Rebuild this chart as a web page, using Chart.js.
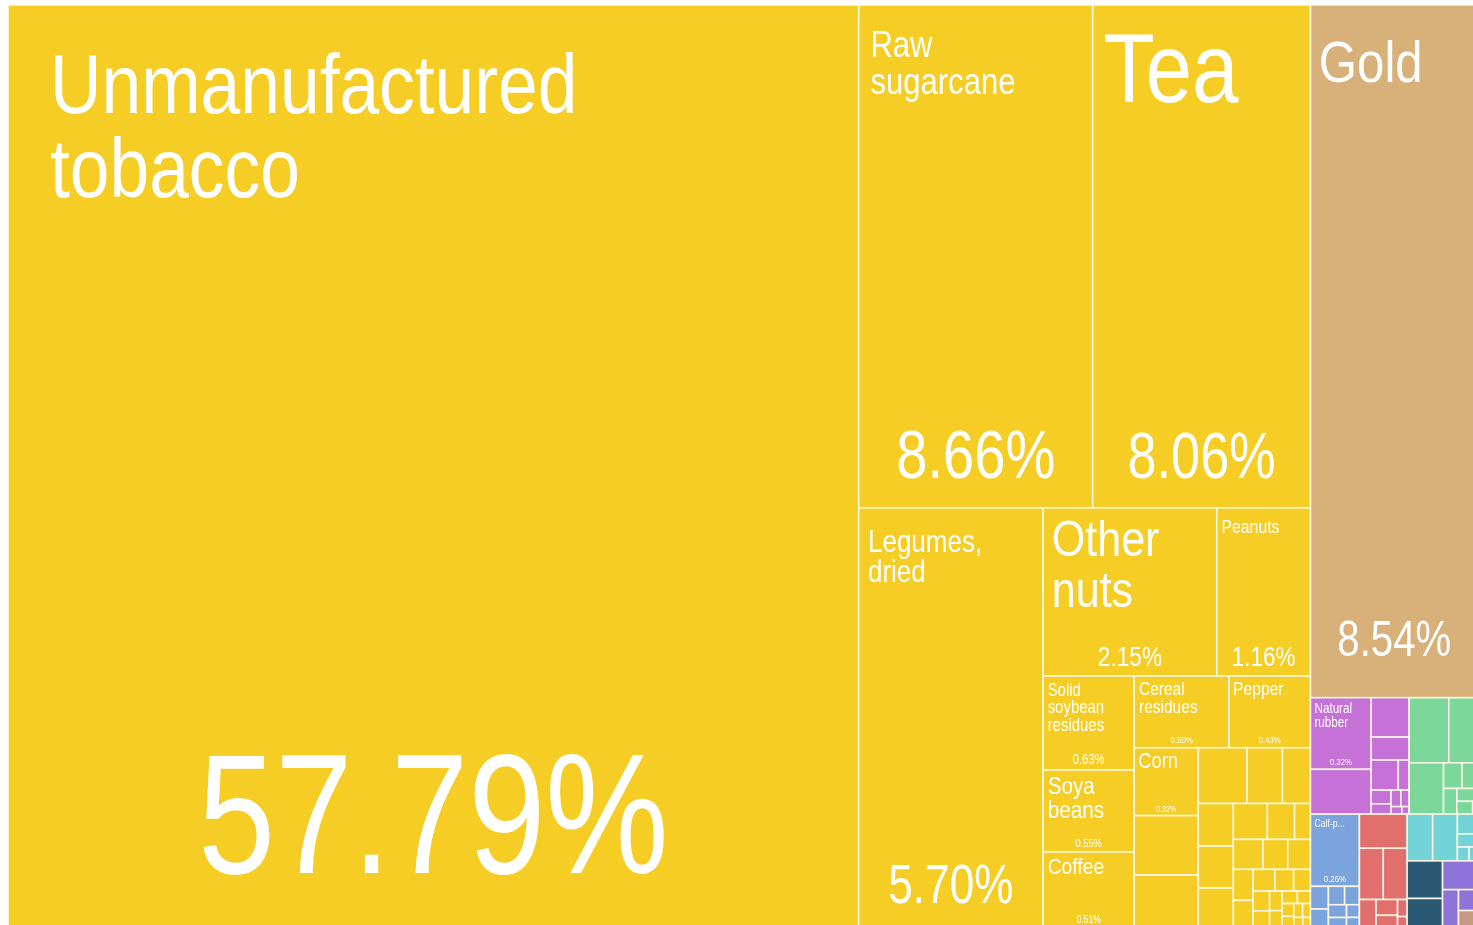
<!DOCTYPE html>
<html>
<head>
<meta charset="utf-8">
<script src="https://cdn.jsdelivr.net/npm/chart.js@4.4.0/dist/chart.umd.min.js"></script>
<style>
  html, body { margin: 0; padding: 0; background: #fff; overflow: hidden; }
  #wrap { width: 1473px; height: 925px; }
</style>
</head>
<body>
<div id="wrap"><canvas id="treemap"></canvas></div>
<script>
// labelled products, share of exports (%)
const products = ['Unmanufactured tobacco', 'Raw sugarcane', 'Tea', 'Gold', 'Legumes, dried', 'Other nuts', 'Peanuts',
  'Solid soybean residues', 'Soya beans', 'Coffee', 'Cereal residues', 'Pepper', 'Corn', 'Natural rubber', 'Calf-p...'];
const shares = [57.79, 8.66, 8.06, 8.54, 5.70, 2.15, 1.16, 0.63, 0.55, 0.51, 0.50, 0.43, 0.32, 0.32, 0.26];
const sectors = ['veg', 'veg', 'veg', 'gold', 'veg', 'veg', 'veg', 'veg', 'veg', 'veg', 'veg', 'veg', 'veg', 'rubber', 'hides'];

// small unlabelled products, read block by block (%)
const vegBelowCorn = [0.28, 0.25];
const vegUpperRow = [0.20, 0.145, 0.115];
const vegLeftColumn = [0.11, 0.108, 0.103];
const vegRightRow = [0.09, 0.072, 0.042];
const vegTail = [0.065, 0.055, 0.05, 0.045, 0.04, 0.035, 0.03, 0.027, 0.024, 0.021,
  0.018, 0.016, 0.014, 0.012, 0.011, 0.01, 0.009, 0.008, 0.007, 0.006];
const rubberBelow = [0.20];
const rubberColumn = [0.11, 0.064];
const rubberPair = [0.06, 0.024];
const rubberTail = [0.02, 0.015, 0.012, 0.01, 0.006, 0.004];
const greenTop = [0.19, 0.14];
const greenSingle = [0.13];
const greenTail = [0.035, 0.03, 0.025, 0.02, 0.015, 0.005];
const hidesTail = [0.03, 0.025, 0.022, 0.02, 0.017, 0.014, 0.012, 0.01];
const redTop = [0.12];
const redPair = [0.09, 0.09];
const redTail = [0.035, 0.025, 0.02, 0.012, 0.008];
const cyanPair = [0.088, 0.085];
const cyanTail = [0.03, 0.02, 0.012, 0.009];
const tealShares = [0.098, 0.077];
const violetTop = [0.075];
const violetLow = [0.045, 0.03];
const brownShares = [0.025];

const sectorColors = {
  veg: '#F5CD24', gold: '#D7B07A', rubber: '#C571D8', green: '#7CD79A', hides: '#7AA4DB',
  red: '#E06F6E', cyan: '#73D3D6', teal: '#2B5872', violet: '#8E73D9', brown: '#C49A82'
};

// whole map size in layout units; the page shows the top-left 1465 x 920 of it
const TOTAL_W = 1470, TOTAL_H = 923;
const FONT = '"Liberation Sans", Arial, Helvetica, sans-serif';
const SQUEEZE = 0.85;      // names
const PCT_SQUEEZE = 0.81;  // shares

// ---- tree building ----
const cells = [];
function leaf(name, value, sector) {
  const c = { name, value, sector };
  cells.push(c);
  return { cell: c, value };
}
const named = i => leaf(products[i], shares[i], sectors[i]);
const minor = (values, sector) => values.map(v => leaf('', v, sector));
function group(dir, kids) {
  kids = kids.flat();
  return { dir, kids, value: kids.reduce((s, k) => s + k.value, 0) };
}
const row = (...k) => group('row', k);
const col = (...k) => group('col', k);
const fit = (...k) => group('fit', k);

function place(node, x0, y0, x1, y1) {
  if (node.cell) { Object.assign(node.cell, { x0, y0, x1, y1 }); return; }
  if (node.dir === 'fit') { squarify(node.kids, x0, y0, x1, y1); return; }
  let pos = node.dir === 'row' ? x0 : y0;
  const span = node.dir === 'row' ? x1 - x0 : y1 - y0;
  node.kids.forEach(k => {
    const d = span * k.value / node.value;
    if (node.dir === 'row') place(k, pos, y0, pos + d, y1);
    else place(k, x0, pos, x1, pos + d);
    pos += d;
  });
}

function squarify(kids, x0, y0, x1, y1) {
  const nodes = kids.slice().sort((a, b) => b.value - a.value);
  let value = nodes.reduce((s, k) => s + k.value, 0);
  let i0 = 0;
  while (i0 < nodes.length) {
    const dx = x1 - x0, dy = y1 - y0;
    let i1 = i0;
    let sum = nodes[i1++].value, lo = sum, hi = sum;
    const alpha = Math.max(dy / dx, dx / dy) / value;
    let beta = sum * sum * alpha;
    let best = Math.max(hi / beta, beta / lo);
    for (; i1 < nodes.length; i1++) {
      const v = nodes[i1].value;
      const s2 = sum + v, lo2 = Math.min(lo, v), hi2 = Math.max(hi, v);
      beta = s2 * s2 * alpha;
      const r = Math.max(hi2 / beta, beta / lo2);
      if (r > best) break;
      best = r; sum = s2; lo = lo2; hi = hi2;
    }
    const strip = nodes.slice(i0, i1);
    if (dx < dy) {
      const yEnd = y0 + dy * sum / value;
      place(group('row', strip), x0, y0, x1, yEnd);
      y0 = yEnd;
    } else {
      const xEnd = x0 + dx * sum / value;
      place(group('col', strip), x0, y0, xEnd, y1);
      x0 = xEnd;
    }
    value -= sum;
    i0 = i1;
  }
}

const tree = row(
  named(0),
  col(
    row(named(1), named(2)),
    row(
      named(4),
      col(
        row(named(5), named(6)),
        row(
          col(named(7), named(8), named(9)),
          col(
            row(named(10), named(11)),
            row(
              col(named(12), minor(vegBelowCorn, 'veg')),
              col(
                row(minor(vegUpperRow, 'veg')),
                row(
                  col(minor(vegLeftColumn, 'veg')),
                  col(row(minor(vegRightRow, 'veg')), fit(minor(vegTail, 'veg')))
                )
              )
            )
          )
        )
      )
    )
  ),
  col(
    named(3),
    col(
      row(
        row(
          col(named(13), minor(rubberBelow, 'rubber')),
          col(minor(rubberColumn, 'rubber'), row(minor(rubberPair, 'rubber')), fit(minor(rubberTail, 'rubber')))
        ),
        col(row(minor(greenTop, 'green')), row(minor(greenSingle, 'green'), fit(minor(greenTail, 'green'))))
      ),
      row(
        col(named(14), fit(minor(hidesTail, 'hides'))),
        col(minor(redTop, 'red'), row(minor(redPair, 'red')), fit(minor(redTail, 'red'))),
        col(
          row(minor(cyanPair, 'cyan'), fit(minor(cyanTail, 'cyan'))),
          row(
            col(minor(tealShares, 'teal')),
            col(minor(violetTop, 'violet'), row(minor(violetLow.slice(0, 1), 'violet'),
              col(minor(violetLow.slice(1), 'violet'), minor(brownShares, 'brown'))))
          )
        )
      )
    )
  )
);
place(tree, 0, 0, TOTAL_W, TOTAL_H);

// ---- a rectangle element and a treemap controller on linear x/y scales ----
class CellElement extends Chart.Element {
  static id = 'cell';
  static defaults = { backgroundColor: '#ccc', borderColor: '#fff', borderWidth: 1 };
  draw(ctx) {
    const o = this.options;
    ctx.save();
    ctx.fillStyle = o.backgroundColor;
    ctx.fillRect(this.x, this.y, this.w, this.h);
    ctx.strokeStyle = o.borderColor;
    ctx.lineWidth = o.borderWidth;
    ctx.strokeRect(this.x, this.y, this.w, this.h);
    ctx.restore();
  }
}

class TreemapController extends Chart.DatasetController {
  static id = 'treemap';
  static defaults = { dataElementType: 'cell', datasetElementType: false };
  update(mode) {
    const meta = this._cachedMeta;
    const xs = meta.xScale, ys = meta.yScale;
    meta.data.forEach((el, i) => {
      const d = meta._parsed[i];
      const left = xs.getPixelForValue(d.x0), right = xs.getPixelForValue(d.x1);
      const top = ys.getPixelForValue(d.y0), bottom = ys.getPixelForValue(d.y1);
      Object.assign(el, {
        x: left, y: top, w: right - left, h: bottom - top,
        options: this.resolveDataElementOptions(i, mode)
      });
    });
  }
}
Chart.register(CellElement, TreemapController);

// names top-left, share bottom-centre, sized to the box
function drawText(ctx, s, x, y, size, align, squeeze) {
  ctx.save();
  ctx.font = size + 'px ' + FONT;
  ctx.textAlign = align;
  ctx.textBaseline = 'alphabetic';
  ctx.translate(x, y);
  ctx.scale(squeeze, 1);
  ctx.fillText(s, 0, 0);
  ctx.restore();
}

const labelPlugin = {
  id: 'cellLabels',
  afterDatasetsDraw(chart) {
    const ctx = chart.ctx;
    const meta = chart.getDatasetMeta(0);
    meta.data.forEach((el, i) => {
      const c = cells[i];
      if (!c.name) return;
      const { x, y, w, h } = el;
      ctx.font = '100px ' + FONT;
      const unit = (s, sq) => ctx.measureText(s).width * sq / 100;
      const words = c.name.split(' ');
      const size = 0.62 * w / Math.max(...words.map(s => unit(s, SQUEEZE)));
      const lines = [];
      let cur = '';
      words.forEach(wd => {
        const t = cur ? cur + ' ' + wd : wd;
        if (cur && unit(t, SQUEEZE) * size > 0.75 * w) { lines.push(cur); cur = wd; }
        else cur = t;
      });
      lines.push(cur);
      const padX = Math.min(Math.max(0.05 * w, 4), 42);
      const padY = Math.max(0.052 * h, Math.min(12, 0.075 * h));
      const pct = c.value.toFixed(2) + '%';
      const pSize = Math.min(0.68 * w / unit(pct, PCT_SQUEEZE), 0.19 * h - 4);
      ctx.fillStyle = '#ffffff';
      if (size >= 6) {
        lines.forEach((ln, k) => drawText(ctx, ln, x + padX, y + padY + size * 0.716 + k * size, size, 'left', SQUEEZE));
      }
      if (pSize >= 6) drawText(ctx, pct, x + w / 2, y + h - 0.06 * h, pSize, 'center', PCT_SQUEEZE);
    });
  }
};

new Chart(document.getElementById('treemap'), {
  type: 'treemap',
  data: {
    datasets: [{
      data: cells.map(c => ({ x: (c.x0 + c.x1) / 2, y: (c.y0 + c.y1) / 2, x0: c.x0, x1: c.x1, y0: c.y0, y1: c.y1 })),
      parsing: false,
      backgroundColor: ctx => { const c = cells[ctx.dataIndex]; return c ? sectorColors[c.sector] : '#ccc'; },
      borderColor: 'rgba(255, 250, 232, 0.92)',
      borderWidth: 1.6
    }]
  },
  options: {
    responsive: true,
    maintainAspectRatio: false,
    animation: false,
    events: [],
    layout: { padding: { left: 8, top: 5, right: 0, bottom: 0 } },
    plugins: { legend: { display: false }, tooltip: { enabled: false } },
    scales: {
      x: { type: 'linear', min: 0, max: 1465, bounds: 'data', display: false },
      y: { type: 'linear', min: 0, max: 920, bounds: 'data', reverse: true, display: false }
    }
  },
  plugins: [labelPlugin]
});
</script>
</body>
</html>
